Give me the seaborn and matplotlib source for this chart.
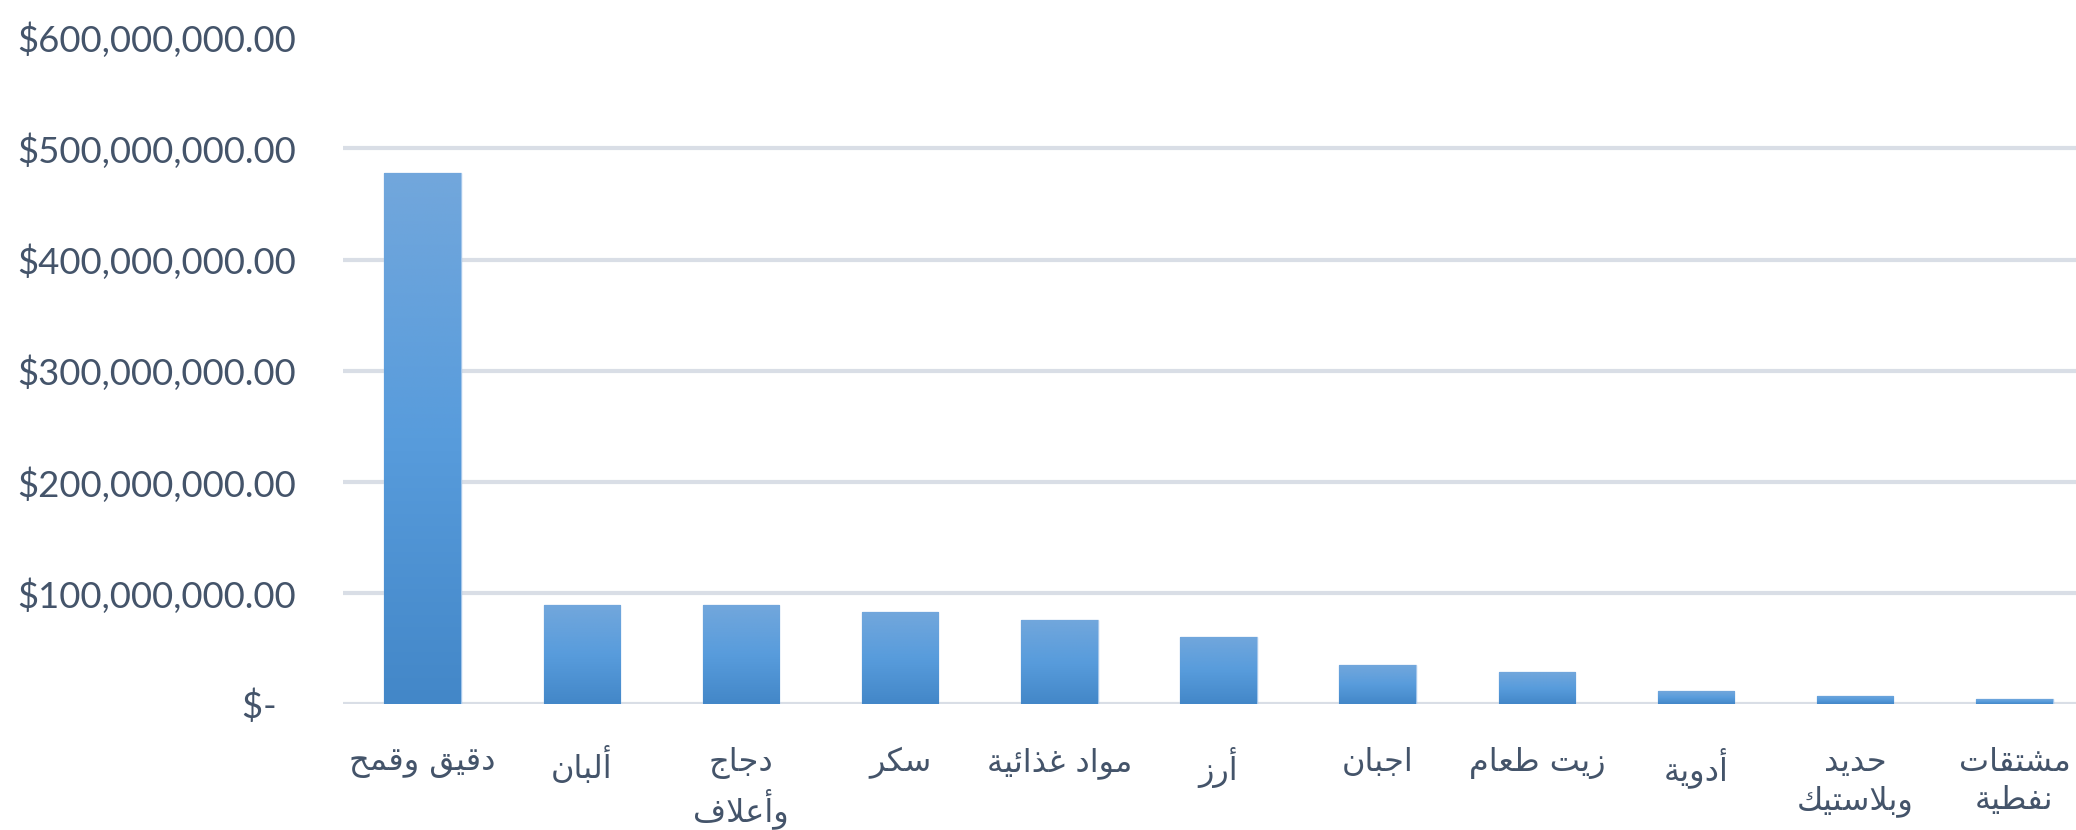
import numpy as np
import pandas as pd
import matplotlib
matplotlib.use("Agg")
import matplotlib.pyplot as plt
from matplotlib.colors import LinearSegmentedColormap
from matplotlib.ticker import FuncFormatter
import seaborn as sns

# ---------------- data ----------------
categories = ["دقيق وقمح", "ألبان", "دجاج\nوأعلاف", "سكر", "مواد غذائية", "أرز",
              "اجبان", "زيت طعام", "أدوية", "حديد\nوبلاستيك", "مشتقات\nنفطية"]
values = [478e6, 89e6, 89e6, 82.5e6, 76e6, 60.5e6, 35e6, 28.5e6, 11.5e6, 7.5e6, 4.5e6]
y_ticks = [0, 100e6, 200e6, 300e6, 400e6, 500e6, 600e6]

# ---------------- minimal Arabic shaping (matplotlib has no CTL) ----------------
FORMS = {
    'ا': ('\uFE8D', '\uFE8E', None, None),
    'أ': ('\uFE83', '\uFE84', None, None),
    'ب': ('\uFE8F', '\uFE90', '\uFE91', '\uFE92'),
    'ة': ('\uFE93', '\uFE94', None, None),
    'ت': ('\uFE95', '\uFE96', '\uFE97', '\uFE98'),
    'ج': ('\uFE9D', '\uFE9E', '\uFE9F', '\uFEA0'),
    'ح': ('\uFEA1', '\uFEA2', '\uFEA3', '\uFEA4'),
    'د': ('\uFEA9', '\uFEAA', None, None),
    'ذ': ('\uFEAB', '\uFEAC', None, None),
    'ر': ('\uFEAD', '\uFEAE', None, None),
    'ز': ('\uFEAF', '\uFEB0', None, None),
    'س': ('\uFEB1', '\uFEB2', '\uFEB3', '\uFEB4'),
    'ش': ('\uFEB5', '\uFEB6', '\uFEB7', '\uFEB8'),
    'ط': ('\uFEC1', '\uFEC2', '\uFEC3', '\uFEC4'),
    'ع': ('\uFEC9', '\uFECA', '\uFECB', '\uFECC'),
    'غ': ('\uFECD', '\uFECE', '\uFECF', '\uFED0'),
    'ف': ('\uFED1', '\uFED2', '\uFED3', '\uFED4'),
    'ق': ('\uFED5', '\uFED6', '\uFED7', '\uFED8'),
    'ك': ('\uFED9', '\uFEDA', '\uFEDB', '\uFEDC'),
    'ل': ('\uFEDD', '\uFEDE', '\uFEDF', '\uFEE0'),
    'م': ('\uFEE1', '\uFEE2', '\uFEE3', '\uFEE4'),
    'ن': ('\uFEE5', '\uFEE6', '\uFEE7', '\uFEE8'),
    'و': ('\uFEED', '\uFEEE', None, None),
    'ي': ('\uFEF1', '\uFEF2', '\uFEF3', '\uFEF4'),
    'ئ': ('\uFE89', '\uFE8A', '\uFE8B', '\uFE8C'),
}
LAMALEF = {'ا': ('\uFEFB', '\uFEFC'), 'أ': ('\uFEF7', '\uFEF8')}


def _dual(c):
    return c in FORMS and FORMS[c][2] is not None


def shape_line(s):
    res, i, n = [], 0, len(s)
    while i < n:
        c = s[i]
        prev = s[i - 1] if i > 0 else None
        jp = prev is not None and _dual(prev)
        if c == 'ل' and i + 1 < n and s[i + 1] in LAMALEF:
            lig = LAMALEF[s[i + 1]]
            res.append(lig[1] if jp else lig[0])
            i += 2
            continue
        if c not in FORMS:
            res.append(c)
            i += 1
            continue
        nxt = s[i + 1] if i + 1 < n else None
        jn = _dual(c) and nxt is not None and nxt in FORMS
        iso, fin, ini, med = FORMS[c]
        if jp and jn:
            f = med
        elif jp:
            f = fin
        elif jn:
            f = ini
        else:
            f = iso
        res.append(f)
        i += 1
    return ''.join(reversed(res))


def shape(s):
    return '\n'.join(shape_line(l) for l in s.split('\n'))


# ---------------- plot ----------------
sns.set_theme(style="white")
plt.rcParams['font.family'] = ['Lato', 'DejaVu Sans']

TEXT = "#44546A"
GRID = "#D9DEE6"

df = pd.DataFrame({"cat": categories, "val": values})

fig = plt.figure(figsize=(20.76, 8.30), dpi=100)
ax = fig.add_axes([0.1652, 0.1518, 0.8435, 0.8032])

sns.barplot(data=df, x="cat", y="val", order=categories, color="#5B9BD5",
            width=0.48, ax=ax, zorder=2)

# gradient fill on each bar
cmap = LinearSegmentedColormap.from_list("g", ["#4387C8", "#589CDC", "#72A7DC"])
grad = np.linspace(0, 1, 256).reshape(-1, 1)
for p in ax.patches:
    x0, y0 = p.get_x(), p.get_y()
    w, h = p.get_width(), p.get_height()
    p.set_edgecolor("#A4C6EA")
    p.set_linewidth(1.0)
    im = ax.imshow(grad, extent=[x0, x0 + w, y0, y0 + h], origin="lower",
                   aspect="auto", cmap=cmap, interpolation="bicubic", zorder=2.5)
    im.set_clip_path(p)

ax.set_xlim(-0.5, len(categories) - 0.5)
ax.set_ylim(y_ticks[0], y_ticks[-1])
ax.set_yticks(y_ticks)


def fmt(v, pos):
    if v == 0:
        return "$-  "
    return "$" + format(v, ",.2f")


ax.yaxis.set_major_formatter(FuncFormatter(fmt))

ax.grid(axis="y", color=GRID, linewidth=3.0, zorder=0)
ax.grid(axis="x", visible=False)
ax.set_axisbelow(True)
# no gridline at the top value
ax.get_ygridlines()[-1].set_visible(False)

for s in ax.spines.values():
    s.set_visible(False)

ax.set_xlabel("")
ax.set_ylabel("")
ax.tick_params(axis="y", length=0, pad=34, labelsize=26.3, labelcolor=TEXT)
ax.tick_params(axis="x", length=0, pad=31)

ax.set_xticks(range(len(categories)))
ax.set_xticklabels([shape(c) for c in categories], fontsize=23, color=TEXT,
                   family=['DejaVu Sans'], linespacing=1.28, va="top")

fig.savefig("out.png", dpi=100)
